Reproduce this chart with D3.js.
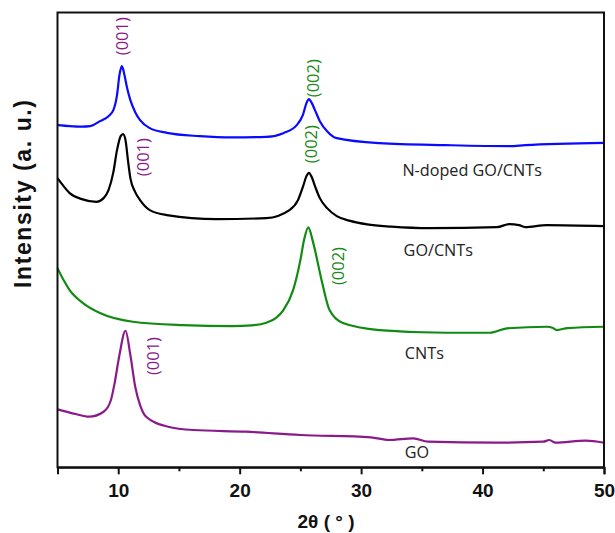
<!DOCTYPE html>
<html>
<head>
<meta charset="utf-8">
<script src="https://cdn.jsdelivr.net/npm/d3@7"></script>
<style>
  html, body { margin: 0; padding: 0; background: #fff; }
  svg { display: block; }
</style>
</head>
<body>
<svg id="chart" width="615" height="533"></svg>
<script>
// ---------------- DATA ----------------
// 2θ (degrees) and stacked intensity (a.u., offset for display)
const ndopedTheta = [5.0,6.0,7.0,7.7,8.5,9.2,9.6,9.9,10.1,10.3,10.5,10.7,11.0,11.4,11.8,12.6,14.0,16.7,19.4,22.2,23.6,24.7,25.2,25.5,25.7,25.9,26.2,26.6,27.2,28.0,31.5,37.0,42.2,43.5,50.0];
const ndopedInt   = [342.3,341.3,340.8,341.3,346.3,351.3,357.3,372.3,392.3,401.3,393.3,381.3,367.3,355.3,347.3,339.3,334.6,331.3,330.0,330.6,334.3,342.3,352.3,364.3,368.3,365.3,357.3,346.3,336.3,329.3,324.3,322.3,321.3,322.3,324.6];

const gocntTheta = [5.0,5.5,6.0,7.0,8.2,8.8,9.2,9.6,9.9,10.2,10.4,10.6,10.8,11.0,11.4,11.8,12.6,14.0,18.1,22.2,24.1,24.8,25.2,25.5,25.7,25.9,26.2,26.6,27.2,28.0,29.1,30.5,32.5,35.7,41.2,42.2,43.0,43.5,45.3,50.0];
const gocntInt   = [289.3,281.3,274.3,268.3,265.6,269.3,277.3,295.3,317.3,331.3,333.3,327.3,307.3,289.3,275.3,267.3,257.3,252.3,248.3,249.3,257.3,267.3,280.3,291.3,294.6,291.3,281.3,269.3,259.3,251.3,246.5,243.0,240.8,239.3,240.3,243.3,242.3,240.3,242.3,241.3];

const cntTheta = [5.0,5.5,6.0,7.1,8.5,11.2,15.3,19.4,21.0,22.2,23.0,23.6,24.4,25.0,25.3,25.65,26.0,26.2,26.8,27.4,28.5,31.5,37.0,40.6,42.0,45.3,45.8,46.1,47.0,50.0];
const cntInt   = [199.3,187.3,177.3,164.3,154.3,145.6,142.3,141.3,142.0,144.6,149.5,157.3,177.3,207.3,227.3,240.0,227.3,217.3,184.3,157.3,144.3,137.3,134.6,134.6,139.0,140.6,139.3,137.3,139.3,140.6];

const goTheta = [5.0,6.5,7.6,8.8,9.4,9.7,10.1,10.6,11.0,11.4,11.8,12.3,14.1,16.2,20.5,25.0,30.8,32.3,34.3,35.5,41.1,45.0,45.5,46.0,48.5,50.0];
const goInt   = [58.0,53.3,50.6,55.6,67.3,84.0,112.3,136.6,112.3,80.6,62.3,50.6,40.6,37.3,35.6,32.3,30.0,27.3,29.0,25.6,24.6,25.6,27.3,24.6,26.6,24.6];

const seriesNames  = ["N-doped GO/CNTs", "GO/CNTs", "CNTs", "GO"];
const seriesColors = ["#0a0aff", "#000000", "#118a11", "#8a1a8a"];

// series label anchors (2θ, intensity)
const labelTheta = [33.4, 33.5, 33.6, 33.6];
const labelInt   = [297.3, 217.3, 114.3, 15.3];

// peak (hkl) annotations
const peakText  = ["(001)", "(002)", "(001)", "(002)", "(002)", "(001)"];
const peakTheta = [10.37, 26.05, 12.06, 25.92, 28.1, 12.9];
const peakInt   = [431.3, 389.3, 310.3, 323.3, 201.3, 111.3];
const peakColor = ["#8a1a8a", "#1a8a1a", "#8a1a8a", "#1a8a1a", "#1a8a1a", "#8a1a8a"];

const majorTicks = [10, 20, 30, 40, 50];
const minorTicks = [5, 15, 25, 35, 45];
const xTitle = "2θ ( ° )";
const yTitle = "Intensity (a. u.)";

// ---------------- CHART ----------------
const svg = d3.select("#chart");
const mLeft = 57.5, mRight = 604, mTop = 12.5, mBottom = 467.3;

const x = d3.scaleLinear().domain([5, 50]).range([mLeft, mRight]);
const y = d3.scaleLinear().domain([0, 455]).range([mBottom, mTop]);

const allSeries = [
  {theta: ndopedTheta, val: ndopedInt},
  {theta: gocntTheta, val: gocntInt},
  {theta: cntTheta, val: cntInt},
  {theta: goTheta, val: goInt}
];

const line = d3.line()
  .x(d => x(d[0]))
  .y(d => y(d[1]))
  .curve(d3.curveMonotoneX);

allSeries.forEach((s, i) => {
  const pts = s.theta.map((t, j) => [t, s.val[j]]);
  svg.append("path")
    .datum(pts)
    .attr("d", line)
    .attr("fill", "none")
    .attr("stroke", seriesColors[i])
    .attr("stroke-width", 2.2)
    .attr("stroke-linejoin", "round");
});

// frame
svg.append("rect")
  .attr("x", mLeft).attr("y", mTop)
  .attr("width", mRight - mLeft).attr("height", mBottom - mTop)
  .attr("fill", "none").attr("stroke", "#111").attr("stroke-width", 2);

// bottom axis
const axisMajor = d3.axisBottom(x).tickValues(majorTicks).tickSize(7).tickPadding(9).tickFormat(d3.format("d"));
const gx = svg.append("g").attr("transform", `translate(0,${mBottom})`).call(axisMajor);
gx.select(".domain").attr("stroke", "#111").attr("stroke-width", 2);
gx.selectAll(".tick line").attr("stroke", "#111").attr("stroke-width", 2);
gx.selectAll(".tick text")
  .attr("font-family", "'Liberation Sans', Arial, sans-serif")
  .attr("font-size", 19).attr("font-weight", "bold").attr("fill", "#111");

const axisMinor = d3.axisBottom(x).tickValues(minorTicks).tickSize(4).tickFormat("");
const gm = svg.append("g").attr("transform", `translate(0,${mBottom})`).call(axisMinor);
gm.select(".domain").remove();
gm.selectAll(".tick line").attr("stroke", "#111").attr("stroke-width", 2);

// axis titles
svg.append("text")
  .attr("x", 326).attr("y", 528)
  .attr("text-anchor", "middle")
  .attr("font-family", "'Liberation Sans', Arial, sans-serif")
  .attr("font-size", 19).attr("font-weight", "bold").attr("fill", "#111")
  .text(xTitle);

svg.append("text")
  .attr("transform", `translate(23,194) rotate(-90)`)
  .attr("text-anchor", "middle").attr("dy", "0.35em")
  .attr("font-family", "'Liberation Sans', Arial, sans-serif")
  .attr("font-size", 23).attr("font-weight", "bold").attr("fill", "#111")
  .attr("textLength", 188).attr("lengthAdjust", "spacing")
  .text(yTitle);

// series labels
seriesNames.forEach((name, i) => {
  svg.append("text")
    .attr("x", x(labelTheta[i])).attr("y", y(labelInt[i]))
    .attr("dy", "0.35em")
    .attr("font-family", "'Open Sans', sans-serif")
    .attr("font-size", 16.2).attr("fill", "#222")
    .text(name);
});

// peak labels
peakText.forEach((t, i) => {
  svg.append("text")
    .attr("transform", `translate(${x(peakTheta[i])},${y(peakInt[i])}) rotate(-90)`)
    .attr("text-anchor", "middle").attr("dy", "0.35em")
    .attr("font-family", "'Open Sans', sans-serif")
    .attr("font-size", 16.5).attr("fill", peakColor[i])
    .text(t);
});
</script>
</body>
</html>
